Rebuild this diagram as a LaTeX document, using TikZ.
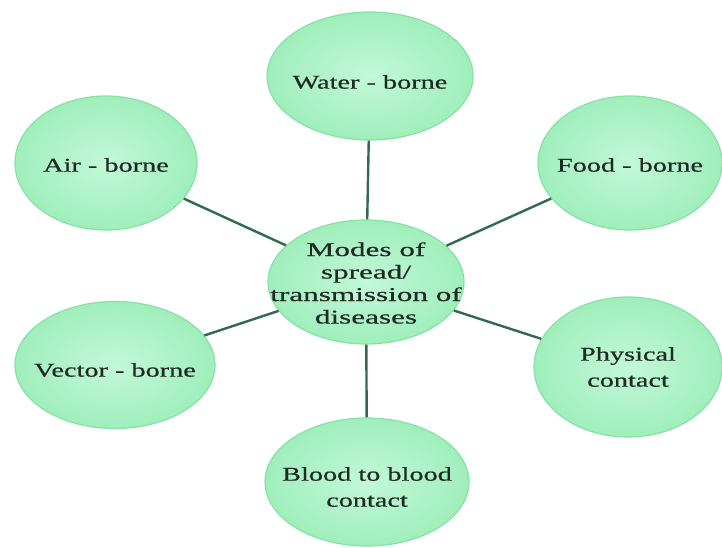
\documentclass[tikz,border=0pt]{standalone}
\usepackage{fontspec}
\setmainfont[FakeStretch=1.45,FakeBold=0.6]{Liberation Serif}
\newfontfamily\widefont[FakeStretch=1.6,FakeBold=0.6]{Liberation Serif}
\usetikzlibrary{shapes.geometric}
\definecolor{inner}{HTML}{C2F8D8}
\definecolor{outer}{HTML}{A0EEBC}
\definecolor{edge}{HTML}{86E2A4}
\definecolor{link}{HTML}{2F6B4C}
\definecolor{txt}{HTML}{1E2A22}
\tikzset{
  bubble/.style={ellipse, draw=edge, line width=1.2pt, inner color=inner, outer color=outer, inner sep=0pt},
  label text/.style={text=txt, font=\fontsize{19.5}{26}\selectfont, align=center, inner sep=0pt},
  link/.style={draw=link, line width=2.4pt}
}
\begin{document}
\begin{tikzpicture}[x=1pt,y=-1pt]
\useasboundingbox (0,0) rectangle (722,548);
\node[bubble, minimum width=196pt, minimum height=124pt] (c) at (366,282) {};
\node[bubble, minimum width=206pt, minimum height=128pt] (w) at (370,76) {};
\node[bubble, minimum width=182pt, minimum height=134pt] (a) at (106,163) {};
\node[bubble, minimum width=184pt, minimum height=134pt] (f) at (630,163) {};
\node[bubble, minimum width=200pt, minimum height=127pt] (v) at (115,365) {};
\node[bubble, minimum width=188pt, minimum height=140pt] (p) at (628,367) {};
\node[bubble, minimum width=204pt, minimum height=128pt] (b) at (367,482) {};
\node[label text, font=\widefont\fontsize{19.5}{22.5}\selectfont] (ct) at ([yshift=-1pt]c.center) {Modes of\\spread/\\transmission of\\diseases};
\node[label text] (wt) at ([yshift=-6pt]w.center) {Water - borne};
\node[label text] (at) at ([yshift=-2pt]a.center) {Air - borne};
\node[label text] (ft) at ([yshift=-2pt]f.center) {Food - borne};
\node[label text] (vt) at ([yshift=-5pt]v.center) {Vector - borne};
\node[label text] (pt) at (p.center) {Physical\\contact};
\node[label text] (bt) at ([yshift=-5pt]b.center) {Blood to blood\\contact};
\draw[link] (c) -- (w);
\draw[link] (c) -- (a);
\draw[link] (c) -- (f);
\draw[link] (c) -- (v);
\draw[link] (c) -- (p);
\draw[link] (c) -- (b);
\end{tikzpicture}
\end{document}
